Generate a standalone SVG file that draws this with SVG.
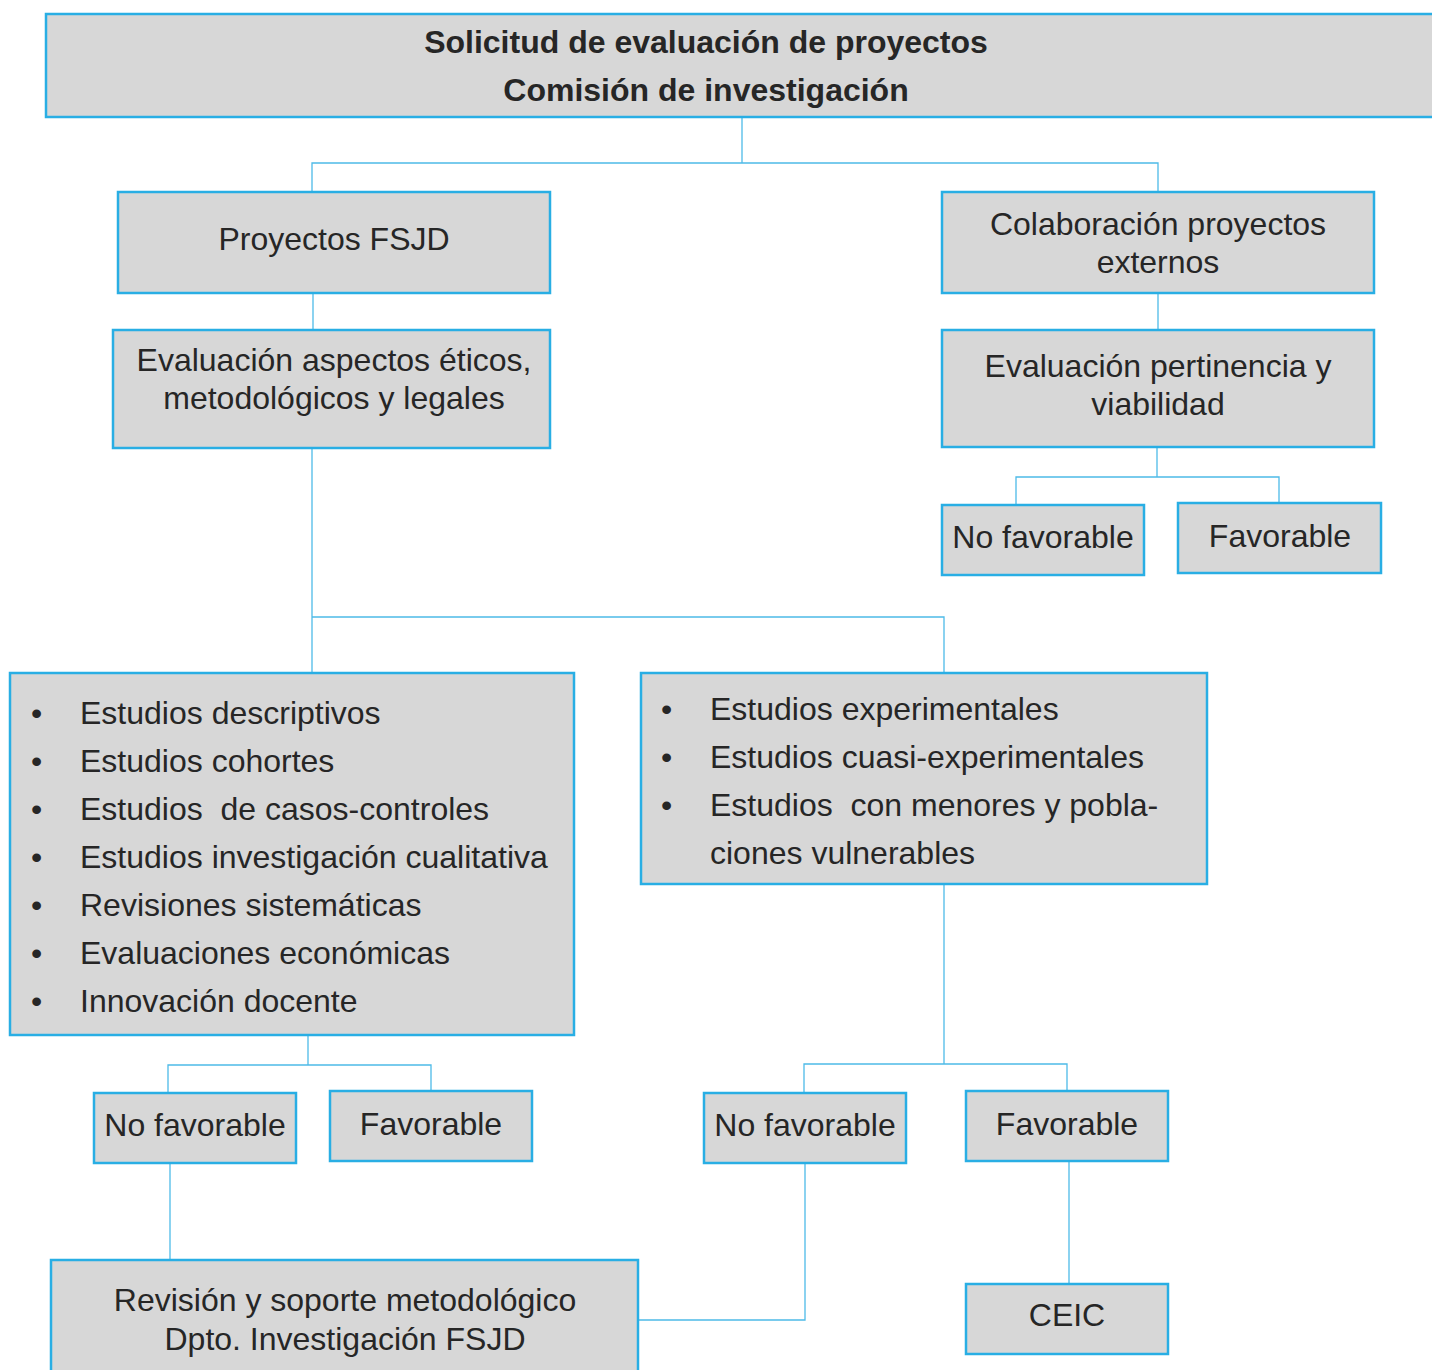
<svg xmlns="http://www.w3.org/2000/svg" width="1432" height="1370" viewBox="0 0 1432 1370">
<style>
.box{fill:#d7d7d7;stroke:#29aee4;stroke-width:2.5}
.c{fill:none;stroke:#4dbbe8;stroke-width:1.3}
text{font-family:"Liberation Sans",Arial,sans-serif;font-size:32px;fill:#262626}
.m{text-anchor:middle}
.b{font-weight:bold}
</style>
<rect width="1432" height="1370" fill="#ffffff"/>
<g id="connectors">
<polyline class="c" points="742,117 742,163"/>
<polyline class="c" points="312,192 312,163 1158,163 1158,192"/>
<polyline class="c" points="313,293 313,330"/>
<polyline class="c" points="1158,293 1158,330"/>
<polyline class="c" points="1157,447 1157,477"/>
<polyline class="c" points="1016,505 1016,477 1279,477 1279,503"/>
<polyline class="c" points="312,448 312,673"/>
<polyline class="c" points="312,617 944,617 944,673"/>
<polyline class="c" points="308,1035 308,1065"/>
<polyline class="c" points="168,1093 168,1065 431,1065 431,1091"/>
<polyline class="c" points="170,1163 170,1260"/>
<polyline class="c" points="944,884 944,1064"/>
<polyline class="c" points="804,1093 804,1064 1067,1064 1067,1091"/>
<polyline class="c" points="805,1163 805,1320 638,1320"/>
<polyline class="c" points="1069,1161 1069,1284"/>
</g>
<g id="n-top">
<rect class="box" x="46" y="14" width="1400" height="103"/>
<text class="m b" x="706" y="53">Solicitud de evaluación de proyectos</text>
<text class="m b" x="706" y="101">Comisión de investigación</text>
</g>
<g id="n-fsjd">
<rect class="box" x="118" y="192" width="432" height="101"/>
<text class="m" x="334" y="250">Proyectos FSJD</text>
</g>
<g id="n-colab">
<rect class="box" x="942" y="192" width="432" height="101"/>
<text class="m" x="1158" y="235">Colaboración proyectos</text>
<text class="m" x="1158" y="273">externos</text>
</g>
<g id="n-eval1">
<rect class="box" x="113" y="330" width="437" height="118"/>
<text class="m" x="334" y="371">Evaluación aspectos éticos,</text>
<text class="m" x="334" y="409">metodológicos y legales</text>
</g>
<g id="n-eval2">
<rect class="box" x="942" y="330" width="432" height="117"/>
<text class="m" x="1158" y="377">Evaluación pertinencia y</text>
<text class="m" x="1158" y="415">viabilidad</text>
</g>
<g id="n-nofav1">
<rect class="box" x="942" y="505" width="202" height="70"/>
<text class="m" x="1043" y="548">No favorable</text>
</g>
<g id="n-fav1">
<rect class="box" x="1178" y="503" width="203" height="70"/>
<text class="m" x="1280" y="547">Favorable</text>
</g>
<g id="n-list1">
<rect class="box" x="10" y="673" width="564" height="362"/>
<text x="31" y="724">•</text><text x="80" y="724">Estudios descriptivos</text>
<text x="31" y="772">•</text><text x="80" y="772">Estudios cohortes</text>
<text x="31" y="820">•</text><text x="80" y="820" xml:space="preserve">Estudios  de casos-controles</text>
<text x="31" y="868">•</text><text x="80" y="868">Estudios investigación cualitativa</text>
<text x="31" y="916">•</text><text x="80" y="916">Revisiones sistemáticas</text>
<text x="31" y="964">•</text><text x="80" y="964">Evaluaciones económicas</text>
<text x="31" y="1012">•</text><text x="80" y="1012">Innovación docente</text>
</g>
<g id="n-list2">
<rect class="box" x="641" y="673" width="566" height="211"/>
<text x="661" y="720">•</text><text x="710" y="720">Estudios experimentales</text>
<text x="661" y="768">•</text><text x="710" y="768">Estudios cuasi-experimentales</text>
<text x="661" y="816">•</text><text x="710" y="816" xml:space="preserve">Estudios  con menores y pobla-</text>
<text x="710" y="864">ciones vulnerables</text>
</g>
<g id="n-nofav2">
<rect class="box" x="94" y="1093" width="202" height="70"/>
<text class="m" x="195" y="1136">No favorable</text>
</g>
<g id="n-fav2">
<rect class="box" x="330" y="1091" width="202" height="70"/>
<text class="m" x="431" y="1135">Favorable</text>
</g>
<g id="n-nofav3">
<rect class="box" x="704" y="1093" width="202" height="70"/>
<text class="m" x="805" y="1136">No favorable</text>
</g>
<g id="n-fav3">
<rect class="box" x="966" y="1091" width="202" height="70"/>
<text class="m" x="1067" y="1135">Favorable</text>
</g>
<g id="n-revision">
<rect class="box" x="51" y="1260" width="587" height="130"/>
<text class="m" x="345" y="1311">Revisión y soporte metodológico</text>
<text class="m" x="345" y="1350">Dpto. Investigación FSJD</text>
</g>
<g id="n-ceic">
<rect class="box" x="966" y="1284" width="202" height="70"/>
<text class="m" x="1067" y="1326">CEIC</text>
</g>
</svg>
